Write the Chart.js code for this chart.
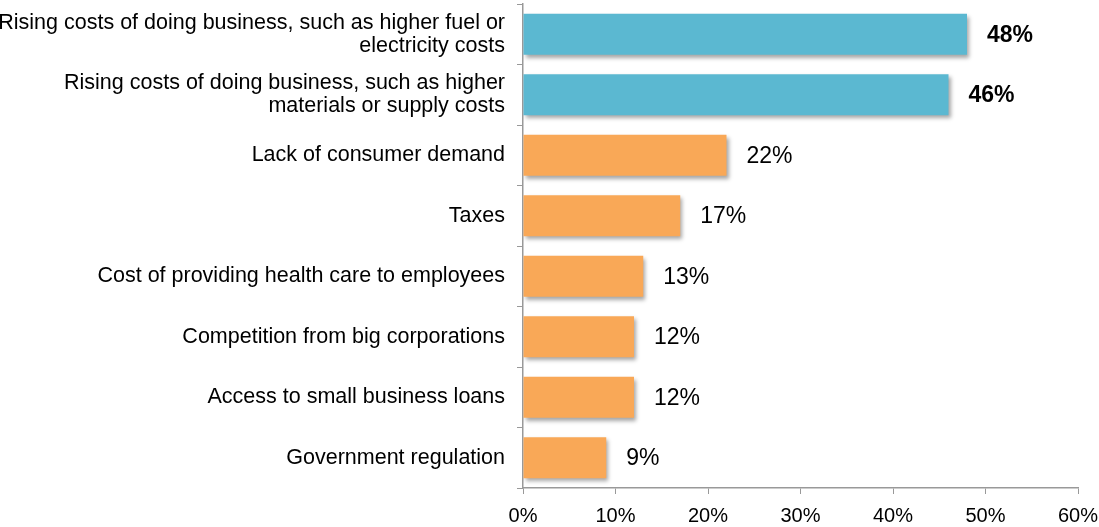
<!DOCTYPE html>
<html>
<head>
<meta charset="utf-8">
<script src="https://cdn.jsdelivr.net/npm/chart.js@4/dist/chart.umd.min.js"></script>
<style>
  html, body { margin: 0; padding: 0; background: #fff; }
  #wrap { width: 1099px; height: 527px; }
</style>
</head>
<body>
<div id="wrap"><canvas id="chart"></canvas></div>
<script>
const categories = [
  ['Rising costs of doing business, such as higher fuel or', 'electricity costs'],
  ['Rising costs of doing business, such as higher', 'materials or supply costs'],
  'Lack of consumer demand',
  'Taxes',
  'Cost of providing health care to employees',
  'Competition from big corporations',
  'Access to small business loans',
  'Government regulation',
];
const values = [48, 46, 22, 17, 13, 12, 12, 9];
const highlighted = [true, true, false, false, false, false, false, false];
const xTicks = [0, 10, 20, 30, 40, 50, 60];

const blue = '#5bb8d1';
const orange = '#f9a857';
const font = "'Liberation Sans', Arial, sans-serif";

const barShadow = {
  id: 'barShadow',
  beforeDatasetDraw(chart) {
    const ctx = chart.ctx;
    ctx.save();
    ctx.shadowColor = 'rgba(0,0,0,0.35)';
    ctx.shadowBlur = 4;
    ctx.shadowOffsetX = 2;
    ctx.shadowOffsetY = 3;
  },
  afterDatasetDraw(chart) {
    chart.ctx.restore();
  },
};

const valueLabels = {
  id: 'valueLabels',
  afterDatasetsDraw(chart) {
    const ctx = chart.ctx;
    const meta = chart.getDatasetMeta(0);
    ctx.save();
    ctx.fillStyle = '#000';
    ctx.textBaseline = 'middle';
    ctx.textAlign = 'left';
    meta.data.forEach((bar, i) => {
      ctx.font = (highlighted[i] ? 'bold ' : '') + '23px ' + font;
      ctx.fillText(values[i] + '%', bar.x + 20, bar.y + 1);
    });
    ctx.restore();
  },
};

new Chart(document.getElementById('chart'), {
  type: 'bar',
  data: {
    labels: categories,
    datasets: [{
      data: values,
      backgroundColor: highlighted.map(h => (h ? blue : orange)),
      borderWidth: 0,
      categoryPercentage: 0.68,
      barPercentage: 1,
    }],
  },
  options: {
    indexAxis: 'y',
    responsive: true,
    maintainAspectRatio: false,
    animation: false,
    layout: { padding: { top: 4, left: 0, right: 21, bottom: 0 } },
    plugins: { legend: { display: false }, tooltip: { enabled: false } },
    scales: {
      x: {
        min: 0,
        max: 60,
        afterBuildTicks: axis => { axis.ticks = xTicks.map(v => ({ value: v })); },
        afterFit: axis => {
          axis.height = 39;
          axis.paddingLeft = 0;
          axis.paddingRight = 0;
        },
        grid: { drawOnChartArea: false, drawTicks: true, tickLength: 6, color: '#999' },
        border: { color: '#999', width: 1.5 },
        ticks: {
          color: '#000',
          font: { family: font, size: 20 },
          padding: 10,
          maxRotation: 0,
          callback: v => v + '%',
        },
      },
      y: {
        afterFit: axis => {
          axis.width = 523;
          axis.paddingTop = 0;
          axis.paddingBottom = 0;
        },
        grid: { offset: true, drawOnChartArea: false, drawTicks: true, tickLength: 6, color: '#999' },
        border: { color: '#999', width: 1.5 },
        ticks: {
          color: '#000',
          font: { family: font, size: 21.5, lineHeight: 1.07 },
          padding: 12,
        },
      },
    },
  },
  plugins: [barShadow, valueLabels],
});
</script>
</body>
</html>
